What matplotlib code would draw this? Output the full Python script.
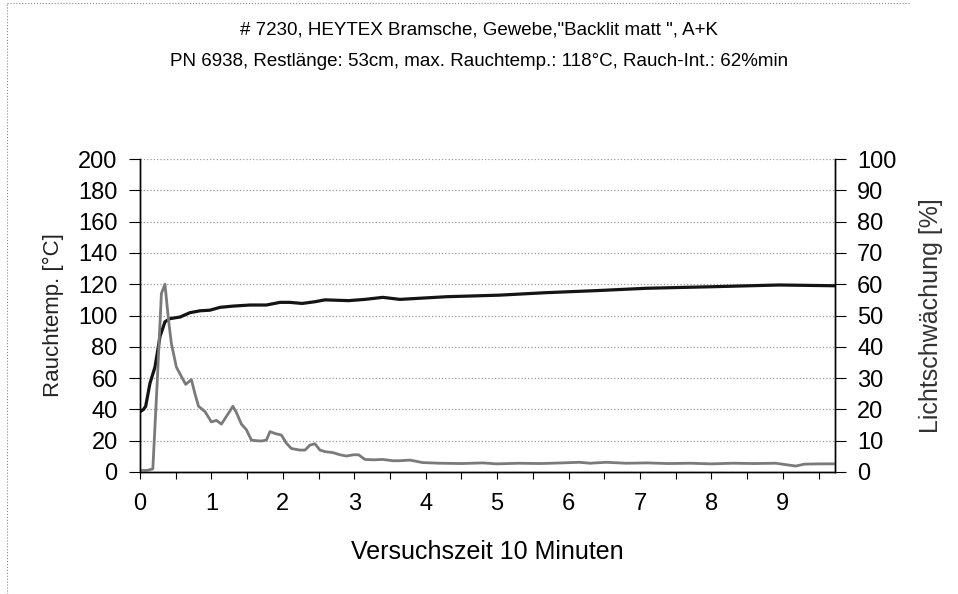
import matplotlib.pyplot as plt
from matplotlib.lines import Line2D

plt.rcParams['font.family'] = ['Liberation Sans', 'DejaVu Sans']

# Rauchtemperatur (left axis, degC)
temp_t = [0, 0.05, 0.08, 0.14, 0.21, 0.28, 0.35, 0.42, 0.56, 0.70, 0.84, 0.98,
          1.12, 1.30, 1.54, 1.77, 1.96, 2.10, 2.27, 2.45, 2.59, 2.92, 3.15, 3.40,
          3.64, 4.29, 5.03, 5.69, 6.39, 7.09, 8.02, 8.95, 9.73]
temp_c = [38.5, 40, 42, 56.7, 67, 86.5, 96, 98, 99, 101.8, 103, 103.4,
          105.2, 106, 106.7, 106.7, 108.4, 108.4, 107.7, 108.8, 110, 109.5, 110.3, 111.6,
          110.3, 112, 113, 114.6, 115.9, 117.4, 118.4, 119.5, 119]

# Lichtschwaechung (right axis, %)
light_t = [0, 0.10, 0.18, 0.24, 0.30, 0.35, 0.40, 0.44, 0.51, 0.58, 0.64, 0.72,
           0.77, 0.82, 0.91, 1.00, 1.07, 1.14, 1.24, 1.30, 1.35, 1.42, 1.49, 1.56,
           1.63, 1.70, 1.77, 1.82, 1.89, 1.98, 2.05, 2.12, 2.24, 2.31, 2.38, 2.45,
           2.52, 2.59, 2.70, 2.80, 2.89, 2.99, 3.06, 3.15, 3.27, 3.40, 3.54, 3.64,
           3.78, 3.96, 4.2, 4.5, 4.8, 5.0, 5.3, 5.6, 5.9, 6.15, 6.3, 6.53,
           6.8, 7.1, 7.4, 7.7, 8.0, 8.3, 8.6, 8.9, 9.18, 9.3, 9.5, 9.73]
light_p = [0.5, 0.5, 1, 28, 57, 60, 48.5, 41, 33.5, 30.5, 28, 29.5,
           25, 21, 19.3, 16, 16.5, 15.3, 18.8, 21, 19, 15.3, 13.5, 10.2,
           10, 9.9, 10.2, 12.9, 12.3, 11.8, 9.2, 7.5, 7, 7, 8.6, 9,
           7, 6.5, 6.2, 5.5, 5.1, 5.5, 5.5, 4, 3.9, 4, 3.6, 3.6,
           3.8, 3, 2.8, 2.7, 2.9, 2.6, 2.8, 2.7, 2.9, 3.1, 2.8, 3.1,
           2.8, 2.9, 2.7, 2.8, 2.6, 2.8, 2.7, 2.8, 1.9, 2.5, 2.6, 2.6]

title1 = '# 7230, HEYTEX Bramsche, Gewebe,"Backlit matt ", A+K'
title2 = 'PN 6938, Restlänge: 53cm, max. Rauchtemp.: 118°C, Rauch-Int.: 62%min'

fig = plt.figure(figsize=(9.58, 5.94), dpi=100)
ax = fig.add_axes([0.1461, 0.2054, 0.7255, 0.5269])
ax2 = ax.twinx()

ax.plot(temp_t, temp_c, color='#141414', lw=2.3, zorder=3)
ax2.plot(light_t, light_p, color='#7a7a7a', lw=2.0, zorder=2)

ax.set_xlim(0, 9.73)
ax.set_ylim(0, 200)
ax2.set_ylim(0, 100)
ax.set_yticks(range(0, 201, 20))
ax2.set_yticks(range(0, 101, 10))
ax.set_xticks([i * 0.5 for i in range(20)], minor=True)
ax.set_xticks(range(10))
ax.tick_params(axis='x', which='both', length=5, width=0.8, labelsize=17, pad=10)
ax.tick_params(axis='y', length=8, width=0.8, labelsize=17, pad=8)
ax2.tick_params(axis='y', length=8, width=0.8, labelsize=17, pad=8)

ax.grid(axis='y', color='#9a9a9a', linestyle=':', linewidth=0.9)
ax.set_axisbelow(True)
for a in (ax, ax2):
    a.spines['top'].set_visible(False)
    for s in ('left', 'right', 'bottom'):
        a.spines[s].set_linewidth(1.0)

ax.set_ylabel('Rauchtemp. [°C]', fontsize=16, color='#222222', labelpad=10)
ax2.set_ylabel('Lichtschwächung [%]', fontsize=18, color='#333333', labelpad=16)
ax.set_xlabel('Versuchszeit 10 Minuten', fontsize=18, labelpad=18)

fig.text(0.5, 0.950, title1, ha='center', va='center', fontsize=13.5)
fig.text(0.5, 0.896, title2, ha='center', va='center', fontsize=13.5)

# chart area border
fig.add_artist(Line2D([0.007, 0.007], [0.0, 0.995], color='#888888', lw=0.8, linestyle=':'))
fig.add_artist(Line2D([0.007, 0.95], [0.995, 0.995], color='#888888', lw=0.8, linestyle=':'))

fig.savefig('out.png', dpi=100)
